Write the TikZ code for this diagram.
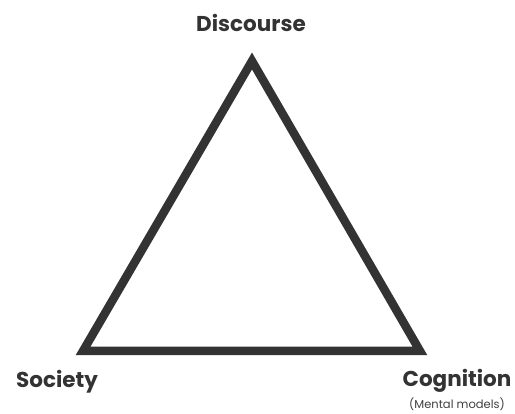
\documentclass[tikz,border=0pt]{standalone}
\usepackage{fontspec}
\setmainfont{Poppins}
\usetikzlibrary{positioning}
\begin{document}
\begin{tikzpicture}[x=1pt,y=-1pt,line join=miter,
  label/.style={font=\bfseries\fontsize{21.5}{24}\selectfont,text=black!80,inner sep=0pt},
  sublabel/.style={font=\fontsize{11.5}{13}\selectfont,text=black!75,inner sep=0pt}]
   \useasboundingbox (0,0) rectangle (515,414);
   \coordinate (d) at (252,61);
   \coordinate (s) at (83,351);
   \coordinate (c) at (420,351);
   \draw[line width=8.5pt,black!80] (d) -- (c) -- (s) -- cycle;
   \node[label] (dis) at (251,23) {Discourse};
   \node[label] (soc) at (57,382) {Society};
   \node[label] (cog) at (457,381) {Cognition};
   \node[sublabel] (men) [below =5pt of cog] {(Mental models)};
\end{tikzpicture}
\end{document}
